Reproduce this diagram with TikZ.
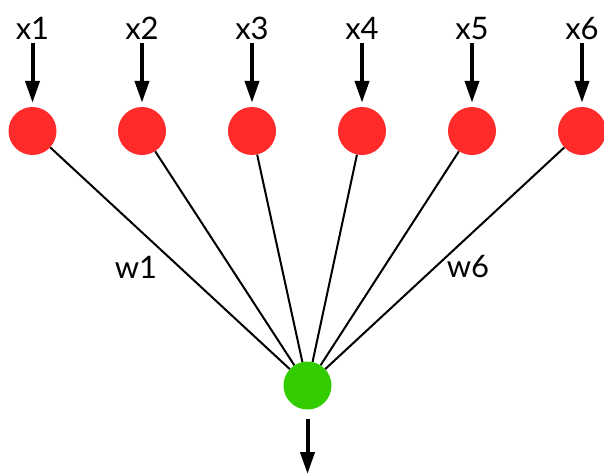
\documentclass[tikz,border=0pt]{standalone}
\usepackage{fontspec}
\setmainfont{Lato}
\usetikzlibrary{arrows.meta}
\definecolor{nred}{RGB}{255,43,43}
\definecolor{ngreen}{RGB}{51,204,0}
\begin{document}
\begin{tikzpicture}[x=1pt,y=-1pt,
  inputnode/.style={circle,fill=nred,minimum size=48pt,inner sep=0pt},
  outnode/.style={circle,fill=ngreen,minimum size=48pt,inner sep=0pt},
  lbl/.style={anchor=base,inner sep=0pt,font=\fontsize{31}{36}\selectfont},
  inarrow/.style={line width=4pt,-{Triangle[length=22pt,width=14pt]}},
  wire/.style={line width=2pt}]
\useasboundingbox (0,0) rectangle (604,475);
\foreach \i/\x in {1/32.5,2/142,3/252,4/362,5/472,6/582}{
  \node[inputnode] (c\i) at (\x,131) {};
  \node[lbl] (l\i) at (\x,39) {x\i};
  \draw[inarrow,shorten <=4pt,shorten >=4pt] (l\i.south) -- (c\i);
}
\node[outnode] (g) at (307.5,385.5) {};
\foreach \i in {1,...,6}{\draw[wire] (c\i) -- (g);}
\coordinate (out) at (307.5,474);
\draw[inarrow,shorten <=9pt] (g) -- (out);
\node[lbl] (w1) at (136,278) {w1};
\node[lbl] (w6) at (468,277) {w6};
\end{tikzpicture}
\end{document}
